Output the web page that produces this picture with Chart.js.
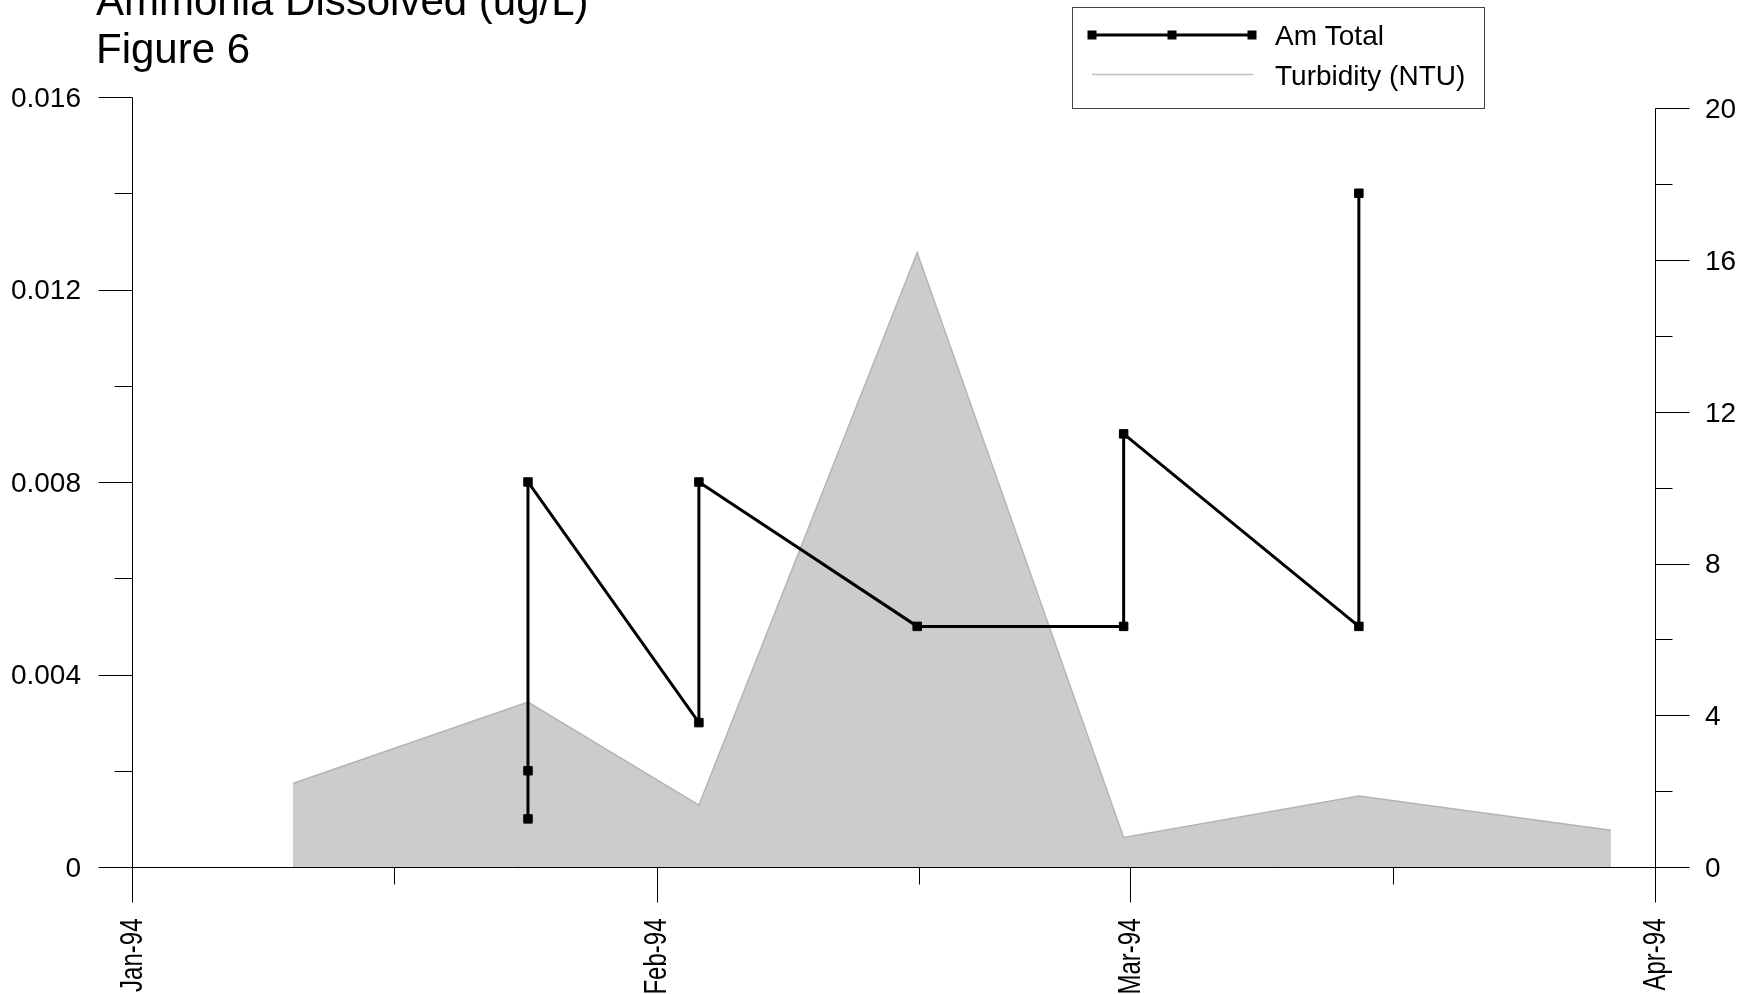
<!DOCTYPE html>
<html><head><meta charset="utf-8">
<script src="https://cdn.jsdelivr.net/npm/chart.js@4.4.1/dist/chart.umd.min.js"></script>
<style>html,body{margin:0;padding:0;background:#fff;overflow:hidden}#wrap{width:1756px;height:994px;position:relative}</style>
</head><body><div id="wrap"><canvas id="c" width="1756" height="994"></canvas></div>
<script>
const titleLines = ["Ammonia Dissolved (ug/L)", "Figure 6"];
const seriesNames = ["Am Total", "Turbidity (NTU)"];
const monthLabels = ["Jan-94", "Feb-94", "Mar-94", "Apr-94"];
const monthDays = [0, 31, 59, 90];
const midMonthDays = [15.5, 46.5, 74.5];
const amDays = [23.4, 23.4, 23.4, 33.5, 33.5, 46.4, 58.6, 58.6, 72.5, 72.5];
const amValues = [0.001, 0.002, 0.008, 0.003, 0.008, 0.005, 0.005, 0.009, 0.005, 0.014];
const turbDays = [9.5, 23.4, 33.5, 46.4, 58.6, 72.5, 87.4];
const turbValues = [2.2, 4.35, 1.63, 16.2, 0.78, 1.87, 0.97];
const leftMajor = [0, 0.004, 0.008, 0.012, 0.016];
const leftLabels = ["0", "0.004", "0.008", "0.012", "0.016"];
const leftMinor = [0.002, 0.006, 0.010, 0.014];
const rightMajor = [0, 4, 8, 12, 16, 20];
const rightLabels = ["0", "4", "8", "12", "16", "20"];
const rightMinor = [2, 6, 10, 14, 18];

const FONT = "'Liberation Sans', Arial, Helvetica, sans-serif";
Chart.defaults.font.family = FONT;
Chart.defaults.color = '#000';

function crisp(v) { return Math.round(v) + 0.5; }

const axesPlugin = {
  id: 'axesPlugin',
  afterDraw(chart) {
    const ctx = chart.ctx;
    const x = chart.scales.x, y = chart.scales.y, y1 = chart.scales.y1;
    const axY = crisp(y.getPixelForValue(0));
    const axL = crisp(x.getPixelForValue(0));
    const axR = crisp(x.getPixelForValue(90));
    ctx.save();
    ctx.strokeStyle = '#000';
    ctx.lineWidth = 1;
    ctx.beginPath();
    ctx.moveTo(axL, axY); ctx.lineTo(axR, axY);
    ctx.moveTo(axL, crisp(y.getPixelForValue(0.016))); ctx.lineTo(axL, axY);
    ctx.moveTo(axR, crisp(y1.getPixelForValue(20))); ctx.lineTo(axR, axY);
    leftMajor.forEach(v => { const p = crisp(y.getPixelForValue(v)); ctx.moveTo(axL - 34, p); ctx.lineTo(axL, p); });
    leftMinor.forEach(v => { const p = crisp(y.getPixelForValue(v)); ctx.moveTo(axL - 18, p); ctx.lineTo(axL, p); });
    rightMajor.forEach(v => { const p = crisp(y1.getPixelForValue(v)); ctx.moveTo(axR, p); ctx.lineTo(axR + 34, p); });
    rightMinor.forEach(v => { const p = crisp(y1.getPixelForValue(v)); ctx.moveTo(axR, p); ctx.lineTo(axR + 17, p); });
    monthDays.forEach(v => { const p = crisp(x.getPixelForValue(v)); ctx.moveTo(p, axY); ctx.lineTo(p, axY + 35); });
    midMonthDays.forEach(v => { const p = crisp(x.getPixelForValue(v)); ctx.moveTo(p, axY); ctx.lineTo(p, axY + 17); });
    ctx.stroke();

    // axis tick labels
    ctx.fillStyle = '#000';
    ctx.font = '28px ' + FONT;
    ctx.textBaseline = 'middle';
    ctx.textAlign = 'right';
    leftMajor.forEach((v, i) => ctx.fillText(leftLabels[i], 81, y.getPixelForValue(v) + 2));
    ctx.textAlign = 'left';
    rightMajor.forEach((v, i) => ctx.fillText(rightLabels[i], 1705, y1.getPixelForValue(v) + 2));
    ctx.font = '24px ' + FONT;
    ctx.textAlign = 'right';
    monthDays.forEach((v, i) => {
      const px = x.getPixelForValue(v);
      ctx.save();
      ctx.translate(px + 1, axY + 51);
      ctx.rotate(-Math.PI / 2);
      ctx.scale(1, 1.3);
      ctx.fillText(monthLabels[i], 0, 0);
      ctx.restore();
    });

    // title
    ctx.font = '42px ' + FONT;
    ctx.textAlign = 'left';
    ctx.textBaseline = 'alphabetic';
    ctx.fillText(titleLines[0], 96, 15);
    ctx.fillText(titleLines[1], 96, 63);

    // legend
    ctx.strokeStyle = '#444';
    ctx.lineWidth = 1;
    ctx.strokeRect(1072.5, 7.5, 412, 101);
    ctx.strokeStyle = '#000';
    ctx.lineWidth = 3;
    ctx.beginPath(); ctx.moveTo(1092, 35); ctx.lineTo(1252, 35); ctx.stroke();
    ctx.fillStyle = '#000';
    [1092, 1172, 1252].forEach(px => ctx.fillRect(px - 4.5, 30.5, 9, 9));
    ctx.strokeStyle = '#bdbdbd';
    ctx.lineWidth = 1.5;
    ctx.beginPath(); ctx.moveTo(1092, 74.5); ctx.lineTo(1253, 74.5); ctx.stroke();
    ctx.fillStyle = '#000';
    ctx.font = '28px ' + FONT;
    ctx.textBaseline = 'middle';
    ctx.fillText(seriesNames[0], 1275, 37);
    ctx.fillText(seriesNames[1], 1275, 77);
    ctx.restore();
  }
};

new Chart(document.getElementById('c').getContext('2d'), {
  type: 'line',
  data: {
    datasets: [
      {
        label: seriesNames[0],
        data: amDays.map((d, i) => ({ x: d, y: amValues[i] })),
        yAxisID: 'y',
        borderColor: '#000', backgroundColor: '#000',
        borderWidth: 3, pointStyle: 'rect', pointRadius: 6, pointBorderWidth: 1,
        pointBackgroundColor: '#000', pointBorderColor: '#000',
        fill: false, tension: 0, order: 0
      },
      {
        label: seriesNames[1],
        data: turbDays.map((d, i) => ({ x: d, y: turbValues[i] })),
        yAxisID: 'y1',
        borderColor: '#b4b4b4', backgroundColor: '#cccccc',
        borderWidth: 1.5, pointRadius: 0,
        fill: 'origin', tension: 0, order: 1
      }
    ]
  },
  options: {
    responsive: false, animation: false, devicePixelRatio: 1,
    layout: { padding: { top: 97, left: 0, right: 0, bottom: 0 } },
    plugins: { legend: { display: false }, tooltip: { enabled: false }, title: { display: false } },
    scales: {
      x: {
        type: 'linear', min: 0, max: 90,
        grid: { display: false, drawTicks: false }, border: { display: false },
        afterBuildTicks: s => { s.ticks = monthDays.map(v => ({ value: v })); },
        afterFit: s => { s.height = 127; },
        ticks: { display: false }
      },
      y: {
        position: 'left', min: 0, max: 0.016,
        grid: { display: false, drawTicks: false }, border: { display: false },
        afterBuildTicks: s => { s.ticks = leftMajor.map(v => ({ value: v })); },
        afterFit: s => { s.width = 132; },
        ticks: { display: false }
      },
      y1: {
        position: 'right', min: 0, max: 20.3,
        grid: { display: false, drawTicks: false }, border: { display: false },
        afterBuildTicks: s => { s.ticks = rightMajor.map(v => ({ value: v })); },
        afterFit: s => { s.width = 101; },
        ticks: { display: false }
      }
    }
  },
  plugins: [axesPlugin]
});
</script>
</body></html>
